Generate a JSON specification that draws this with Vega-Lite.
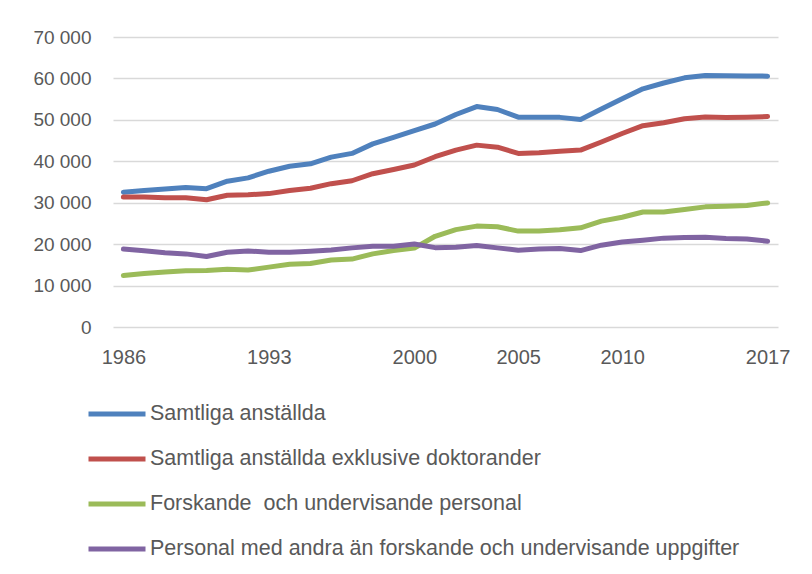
{
  "$schema": "https://vega.github.io/schema/vega-lite/v6.json",
  "width": 665,
  "height": 290,
  "autosize": "none",
  "padding": {"left": 113, "top": 37, "right": 34, "bottom": 247},
  "background": "white",
  "config": {
    "font": "Liberation Sans",
    "view": {"stroke": null}
  },
  "data": {
    "values": [
      {"year":1986,"series":"Samtliga anställda","value":32550},
      {"year":1987,"series":"Samtliga anställda","value":32950},
      {"year":1988,"series":"Samtliga anställda","value":33300},
      {"year":1989,"series":"Samtliga anställda","value":33650},
      {"year":1990,"series":"Samtliga anställda","value":33400},
      {"year":1991,"series":"Samtliga anställda","value":35200},
      {"year":1992,"series":"Samtliga anställda","value":36000},
      {"year":1993,"series":"Samtliga anställda","value":37600},
      {"year":1994,"series":"Samtliga anställda","value":38800},
      {"year":1995,"series":"Samtliga anställda","value":39400},
      {"year":1996,"series":"Samtliga anställda","value":41000},
      {"year":1997,"series":"Samtliga anställda","value":41900},
      {"year":1998,"series":"Samtliga anställda","value":44200},
      {"year":1999,"series":"Samtliga anställda","value":45800},
      {"year":2000,"series":"Samtliga anställda","value":47400},
      {"year":2001,"series":"Samtliga anställda","value":49000},
      {"year":2002,"series":"Samtliga anställda","value":51300},
      {"year":2003,"series":"Samtliga anställda","value":53200},
      {"year":2004,"series":"Samtliga anställda","value":52500},
      {"year":2005,"series":"Samtliga anställda","value":50650},
      {"year":2006,"series":"Samtliga anställda","value":50600},
      {"year":2007,"series":"Samtliga anställda","value":50600},
      {"year":2008,"series":"Samtliga anställda","value":50100},
      {"year":2009,"series":"Samtliga anställda","value":52600},
      {"year":2010,"series":"Samtliga anställda","value":55100},
      {"year":2011,"series":"Samtliga anställda","value":57500},
      {"year":2012,"series":"Samtliga anställda","value":58900},
      {"year":2013,"series":"Samtliga anställda","value":60150},
      {"year":2014,"series":"Samtliga anställda","value":60700},
      {"year":2015,"series":"Samtliga anställda","value":60650},
      {"year":2016,"series":"Samtliga anställda","value":60600},
      {"year":2017,"series":"Samtliga anställda","value":60550},
      {"year":1986,"series":"Samtliga anställda exklusive doktorander","value":31400},
      {"year":1987,"series":"Samtliga anställda exklusive doktorander","value":31400},
      {"year":1988,"series":"Samtliga anställda exklusive doktorander","value":31200},
      {"year":1989,"series":"Samtliga anställda exklusive doktorander","value":31200},
      {"year":1990,"series":"Samtliga anställda exklusive doktorander","value":30700},
      {"year":1991,"series":"Samtliga anställda exklusive doktorander","value":31800},
      {"year":1992,"series":"Samtliga anställda exklusive doktorander","value":31900},
      {"year":1993,"series":"Samtliga anställda exklusive doktorander","value":32200},
      {"year":1994,"series":"Samtliga anställda exklusive doktorander","value":32950},
      {"year":1995,"series":"Samtliga anställda exklusive doktorander","value":33500},
      {"year":1996,"series":"Samtliga anställda exklusive doktorander","value":34600},
      {"year":1997,"series":"Samtliga anställda exklusive doktorander","value":35300},
      {"year":1998,"series":"Samtliga anställda exklusive doktorander","value":37000},
      {"year":1999,"series":"Samtliga anställda exklusive doktorander","value":38000},
      {"year":2000,"series":"Samtliga anställda exklusive doktorander","value":39100},
      {"year":2001,"series":"Samtliga anställda exklusive doktorander","value":41100},
      {"year":2002,"series":"Samtliga anställda exklusive doktorander","value":42700},
      {"year":2003,"series":"Samtliga anställda exklusive doktorander","value":43900},
      {"year":2004,"series":"Samtliga anställda exklusive doktorander","value":43400},
      {"year":2005,"series":"Samtliga anställda exklusive doktorander","value":41900},
      {"year":2006,"series":"Samtliga anställda exklusive doktorander","value":42050},
      {"year":2007,"series":"Samtliga anställda exklusive doktorander","value":42400},
      {"year":2008,"series":"Samtliga anställda exklusive doktorander","value":42700},
      {"year":2009,"series":"Samtliga anställda exklusive doktorander","value":44650},
      {"year":2010,"series":"Samtliga anställda exklusive doktorander","value":46700},
      {"year":2011,"series":"Samtliga anställda exklusive doktorander","value":48600},
      {"year":2012,"series":"Samtliga anställda exklusive doktorander","value":49300},
      {"year":2013,"series":"Samtliga anställda exklusive doktorander","value":50250},
      {"year":2014,"series":"Samtliga anställda exklusive doktorander","value":50700},
      {"year":2015,"series":"Samtliga anställda exklusive doktorander","value":50550},
      {"year":2016,"series":"Samtliga anställda exklusive doktorander","value":50650},
      {"year":2017,"series":"Samtliga anställda exklusive doktorander","value":50800},
      {"year":1986,"series":"Forskande och undervisande personal","value":12450},
      {"year":1987,"series":"Forskande och undervisande personal","value":12900},
      {"year":1988,"series":"Forskande och undervisande personal","value":13300},
      {"year":1989,"series":"Forskande och undervisande personal","value":13550},
      {"year":1990,"series":"Forskande och undervisande personal","value":13650},
      {"year":1991,"series":"Forskande och undervisande personal","value":13950},
      {"year":1992,"series":"Forskande och undervisande personal","value":13750},
      {"year":1993,"series":"Forskande och undervisande personal","value":14450},
      {"year":1994,"series":"Forskande och undervisande personal","value":15150},
      {"year":1995,"series":"Forskande och undervisande personal","value":15350},
      {"year":1996,"series":"Forskande och undervisande personal","value":16150},
      {"year":1997,"series":"Forskande och undervisande personal","value":16400},
      {"year":1998,"series":"Forskande och undervisande personal","value":17650},
      {"year":1999,"series":"Forskande och undervisande personal","value":18450},
      {"year":2000,"series":"Forskande och undervisande personal","value":19050},
      {"year":2001,"series":"Forskande och undervisande personal","value":21900},
      {"year":2002,"series":"Forskande och undervisande personal","value":23500},
      {"year":2003,"series":"Forskande och undervisande personal","value":24350},
      {"year":2004,"series":"Forskande och undervisande personal","value":24200},
      {"year":2005,"series":"Forskande och undervisande personal","value":23150},
      {"year":2006,"series":"Forskande och undervisande personal","value":23200},
      {"year":2007,"series":"Forskande och undervisande personal","value":23450},
      {"year":2008,"series":"Forskande och undervisande personal","value":23950},
      {"year":2009,"series":"Forskande och undervisande personal","value":25550},
      {"year":2010,"series":"Forskande och undervisande personal","value":26500},
      {"year":2011,"series":"Forskande och undervisande personal","value":27750},
      {"year":2012,"series":"Forskande och undervisande personal","value":27750},
      {"year":2013,"series":"Forskande och undervisande personal","value":28350},
      {"year":2014,"series":"Forskande och undervisande personal","value":29000},
      {"year":2015,"series":"Forskande och undervisande personal","value":29150},
      {"year":2016,"series":"Forskande och undervisande personal","value":29350},
      {"year":2017,"series":"Forskande och undervisande personal","value":29950},
      {"year":1986,"series":"Personal med andra än forskande och undervisande uppgifter","value":18800},
      {"year":1987,"series":"Personal med andra än forskande och undervisande uppgifter","value":18400},
      {"year":1988,"series":"Personal med andra än forskande och undervisande uppgifter","value":17900},
      {"year":1989,"series":"Personal med andra än forskande och undervisande uppgifter","value":17650},
      {"year":1990,"series":"Personal med andra än forskande och undervisande uppgifter","value":17000},
      {"year":1991,"series":"Personal med andra än forskande och undervisande uppgifter","value":18050},
      {"year":1992,"series":"Personal med andra än forskande och undervisande uppgifter","value":18350},
      {"year":1993,"series":"Personal med andra än forskande och undervisande uppgifter","value":18050},
      {"year":1994,"series":"Personal med andra än forskande och undervisande uppgifter","value":18050},
      {"year":1995,"series":"Personal med andra än forskande och undervisande uppgifter","value":18300},
      {"year":1996,"series":"Personal med andra än forskande och undervisande uppgifter","value":18600},
      {"year":1997,"series":"Personal med andra än forskande och undervisande uppgifter","value":19100},
      {"year":1998,"series":"Personal med andra än forskande och undervisande uppgifter","value":19500},
      {"year":1999,"series":"Personal med andra än forskande och undervisande uppgifter","value":19500},
      {"year":2000,"series":"Personal med andra än forskande och undervisande uppgifter","value":20050},
      {"year":2001,"series":"Personal med andra än forskande och undervisande uppgifter","value":19150},
      {"year":2002,"series":"Personal med andra än forskande och undervisande uppgifter","value":19250},
      {"year":2003,"series":"Personal med andra än forskande och undervisande uppgifter","value":19650},
      {"year":2004,"series":"Personal med andra än forskande och undervisande uppgifter","value":19100},
      {"year":2005,"series":"Personal med andra än forskande och undervisande uppgifter","value":18550},
      {"year":2006,"series":"Personal med andra än forskande och undervisande uppgifter","value":18800},
      {"year":2007,"series":"Personal med andra än forskande och undervisande uppgifter","value":18950},
      {"year":2008,"series":"Personal med andra än forskande och undervisande uppgifter","value":18450},
      {"year":2009,"series":"Personal med andra än forskande och undervisande uppgifter","value":19750},
      {"year":2010,"series":"Personal med andra än forskande och undervisande uppgifter","value":20500},
      {"year":2011,"series":"Personal med andra än forskande och undervisande uppgifter","value":20950},
      {"year":2012,"series":"Personal med andra än forskande och undervisande uppgifter","value":21450},
      {"year":2013,"series":"Personal med andra än forskande och undervisande uppgifter","value":21600},
      {"year":2014,"series":"Personal med andra än forskande och undervisande uppgifter","value":21650},
      {"year":2015,"series":"Personal med andra än forskande och undervisande uppgifter","value":21350},
      {"year":2016,"series":"Personal med andra än forskande och undervisande uppgifter","value":21250},
      {"year":2017,"series":"Personal med andra än forskande och undervisande uppgifter","value":20700}
    ]
  },
  "mark": {"type": "line", "strokeWidth": 5, "strokeCap": "round", "strokeJoin": "round"},
  "encoding": {
    "x": {
      "field": "year",
      "type": "quantitative",
      "scale": {"domain": [1985.5, 2017.5], "nice": false, "zero": false},
      "axis": {
        "title": null,
        "values": [1986, 1993, 2000, 2005, 2010, 2017],
        "format": "d",
        "grid": false,
        "domain": false,
        "ticks": false,
        "labelPadding": 20,
        "labelFontSize": 20,
        "labelColor": "#595959"
      }
    },
    "y": {
      "field": "value",
      "type": "quantitative",
      "scale": {"domain": [0, 70000], "nice": false},
      "axis": {
        "title": null,
        "values": [0, 10000, 20000, 30000, 40000, 50000, 60000, 70000],
        "labelExpr": "replace(format(datum.value, ','), ',', ' ')",
        "grid": true,
        "gridColor": "#D9D9D9",
        "gridWidth": 1.5,
        "domain": false,
        "ticks": false,
        "labelPadding": 22,
        "labelFontSize": 19,
        "labelColor": "#595959"
      }
    },
    "color": {
      "field": "series",
      "type": "nominal",
      "scale": {
        "domain": [
          "Samtliga anställda",
          "Samtliga anställda exklusive doktorander",
          "Forskande och undervisande personal",
          "Personal med andra än forskande och undervisande uppgifter"
        ],
        "range": ["#4F81BD", "#C0504D", "#9BBB59", "#8064A2"]
      },
      "legend": {
        "title": null,
        "orient": "none",
        "legendX": -27,
        "legendY": 346,
        "direction": "vertical",
        "symbolType": "stroke",
        "symbolSize": 3249,
        "symbolStrokeWidth": 5,
        "labelFontSize": 21.5,
        "labelColor": "#595959",
        "labelOffset": 2,
        "labelLimit": 700,
        "rowPadding": 3,
        "labelExpr": "datum.label == 'Forskande och undervisande personal' ? '\u00a0Forskande\u00a0 och undervisande personal' : datum.label"
      }
    }
  }
}
